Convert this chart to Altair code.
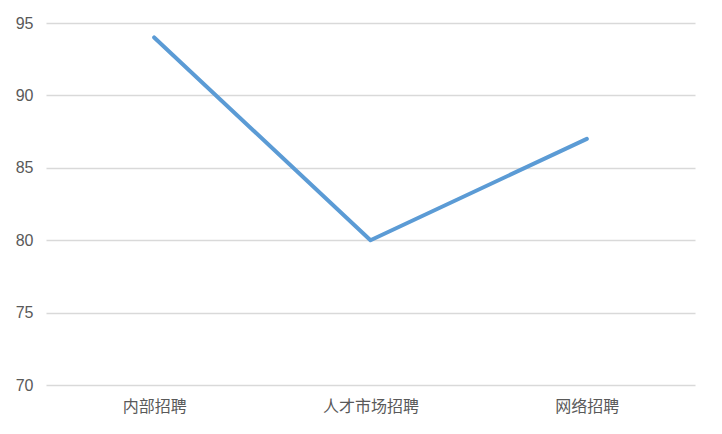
import altair as alt
import pandas as pd

categories = ["内部招聘", "人才市场招聘", "网络招聘"]
values = [94, 80, 87]

df = pd.DataFrame({"cat": categories, "val": values})

line = alt.Chart(df).mark_line(color="#5B9BD5", strokeWidth=4, strokeCap="round", strokeJoin="round").encode(
    x=alt.X("cat:N", sort=categories, title=None,
            scale=alt.Scale(padding=0.5),
            axis=alt.Axis(labelAngle=0, ticks=False, domain=False, grid=False,
                          labelFont="Noto Sans CJK SC", labelFontSize=16, labelColor="#595959",
                          labelPadding=13)),
    y=alt.Y("val:Q", title=None,
            scale=alt.Scale(domain=[70, 95], nice=False, zero=False),
            axis=alt.Axis(values=[70, 75, 80, 85, 90, 95], ticks=False, domain=False,
                          gridColor="#D9D9D9", gridWidth=1.5,
                          labelFont="Liberation Sans", labelFontSize=16, labelColor="#595959",
                          labelPadding=13)),
)

chart = line.properties(
    width=649, height=362,
    autosize=alt.AutoSizeParams(type="none"),
    padding={"left": 38, "top": 15, "right": 18, "bottom": 30},
).configure(background="white").configure_view(strokeWidth=0, stroke="transparent")

chart.save("out.html", embed_options={"renderer": "svg", "actions": False})
